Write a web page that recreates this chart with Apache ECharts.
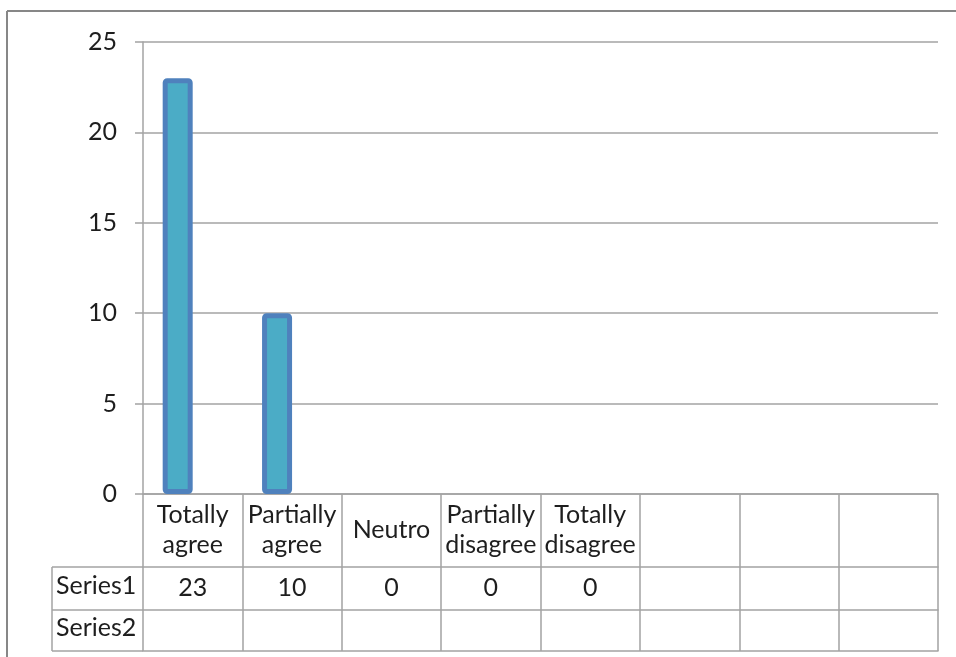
<!DOCTYPE html>
<html>
<head>
<meta charset="utf-8">
<script src="https://cdn.jsdelivr.net/npm/echarts@6/dist/echarts.min.js"></script>
<style>
html,body{margin:0;padding:0;background:#fff;}
#main{width:956px;height:657px;}
</style>
</head>
<body>
<div id="main"></div>
<script>
// ---- data ----
var categories = ['Totally\nagree', 'Partially\nagree', 'Neutro', 'Partially\ndisagree', 'Totally\ndisagree', '', '', ''];
var seriesNames = ['Series1', 'Series2'];
var series1 = [23, 10, 0, 0, 0, null, null, null];
var series2 = [null, null, null, null, null, null, null, null];
var yTicks = [0, 5, 10, 15, 20, 25];

// ---- layout / style ----
var FONT = 'Lato';
var FS = 25;
var TXT = '#1e1e1e';
var LINE = '#a3a3a3';
var gridL = 143, gridR = 18, gridT = 42, gridB = 163;
var H = 657;
var axisY = H - gridB;            // 494
var row1Y = 567, row2Y = 610, tableBottom = 651;
var leftCol = 52;

function barData(arr) {
  return arr.map(function (v) {
    if (v === 0) return { value: v, itemStyle: { borderWidth: 0 } };
    return v;
  });
}

var chart = echarts.init(document.getElementById('main'), null, { renderer: 'canvas' });

var xBase = {
  type: 'category',
  data: categories,
  position: 'bottom',
  boundaryGap: true,
  axisLine: { show: true, lineStyle: { color: LINE, width: 1.5 } },
  axisTick: { show: false },
  splitLine: { show: false },
  axisLabel: { show: false }
};

var option = {
  animation: false,
  backgroundColor: '#ffffff',
  textStyle: { fontFamily: FONT },
  grid: { left: gridL, right: gridR, top: gridT, bottom: gridB, containLabel: false },
  xAxis: [
    Object.assign({}, xBase, {
      axisTick: { show: true, alignWithLabel: false, interval: 0, length: tableBottom - axisY, inside: false,
                  lineStyle: { color: LINE, width: 1.5 } },
      axisLabel: { show: true, interval: 0, margin: 36, verticalAlign: 'middle', align: 'center',
                   color: TXT, fontFamily: FONT, fontSize: FS, lineHeight: 30 }
    }),
    Object.assign({}, xBase, {
      offset: row1Y - axisY,
      axisLabel: { show: true, interval: 0, margin: 21, verticalAlign: 'middle', align: 'center',
                   color: TXT, fontFamily: FONT, fontSize: FS,
                   formatter: function (v, i) { return series1[i] == null ? '' : String(series1[i]); } }
    }),
    Object.assign({}, xBase, {
      offset: row2Y - axisY,
      axisLabel: { show: true, interval: 0, margin: 20, verticalAlign: 'middle', align: 'center',
                   color: TXT, fontFamily: FONT, fontSize: FS,
                   formatter: function (v, i) { return series2[i] == null ? '' : String(series2[i]); } }
    }),
    Object.assign({}, xBase, { offset: tableBottom - axisY })
  ],
  yAxis: {
    type: 'value',
    min: yTicks[0],
    max: yTicks[yTicks.length - 1],
    interval: yTicks[1] - yTicks[0],
    axisLine: { show: true, lineStyle: { color: LINE, width: 1.5 } },
    axisTick: { show: true, length: 8, inside: false, lineStyle: { color: LINE, width: 1.5 } },
    splitLine: { show: true, lineStyle: { color: LINE, width: 1.5 } },
    axisLabel: { margin: 26, color: TXT, fontFamily: FONT, fontSize: FS }
  },
  series: [
    {
      name: seriesNames[0], type: 'bar', xAxisIndex: 0,
      data: barData(series1),
      barWidth: 30, barGap: '0%',
      itemStyle: { color: '#4BACC6', borderColor: '#4F81BD', borderWidth: 5, borderRadius: 2 }
    },
    {
      name: seriesNames[1], type: 'bar', xAxisIndex: 0,
      data: barData(series2),
      barWidth: 30, barGap: '0%',
      itemStyle: { color: '#C0504D', borderColor: '#C0504D', borderWidth: 5 }
    }
  ],
  graphic: [
    // outer frame
    { type: 'line', shape: { x1: 7, y1: 11, x2: 956, y2: 11 }, style: { stroke: '#878787', lineWidth: 2 } },
    { type: 'line', shape: { x1: 7, y1: 11, x2: 7, y2: 657 }, style: { stroke: '#878787', lineWidth: 2 } },
    // table legend column
    { type: 'line', shape: { x1: leftCol, y1: row1Y, x2: gridL, y2: row1Y }, style: { stroke: LINE, lineWidth: 1.5 } },
    { type: 'line', shape: { x1: leftCol, y1: row2Y, x2: gridL, y2: row2Y }, style: { stroke: LINE, lineWidth: 1.5 } },
    { type: 'line', shape: { x1: leftCol, y1: tableBottom, x2: gridL, y2: tableBottom }, style: { stroke: LINE, lineWidth: 1.5 } },
    { type: 'line', shape: { x1: leftCol, y1: row1Y, x2: leftCol, y2: tableBottom }, style: { stroke: LINE, lineWidth: 1.5 } },
    { type: 'text', left: leftCol + 4, top: (row1Y + row2Y) / 2 - 15,
      style: { text: seriesNames[0], fontFamily: FONT, fontSize: FS, fill: TXT } },
    { type: 'text', left: leftCol + 4, top: (row2Y + tableBottom) / 2 - 15,
      style: { text: seriesNames[1], fontFamily: FONT, fontSize: FS, fill: TXT } }
  ]
};

chart.setOption(option);
</script>
</body>
</html>
